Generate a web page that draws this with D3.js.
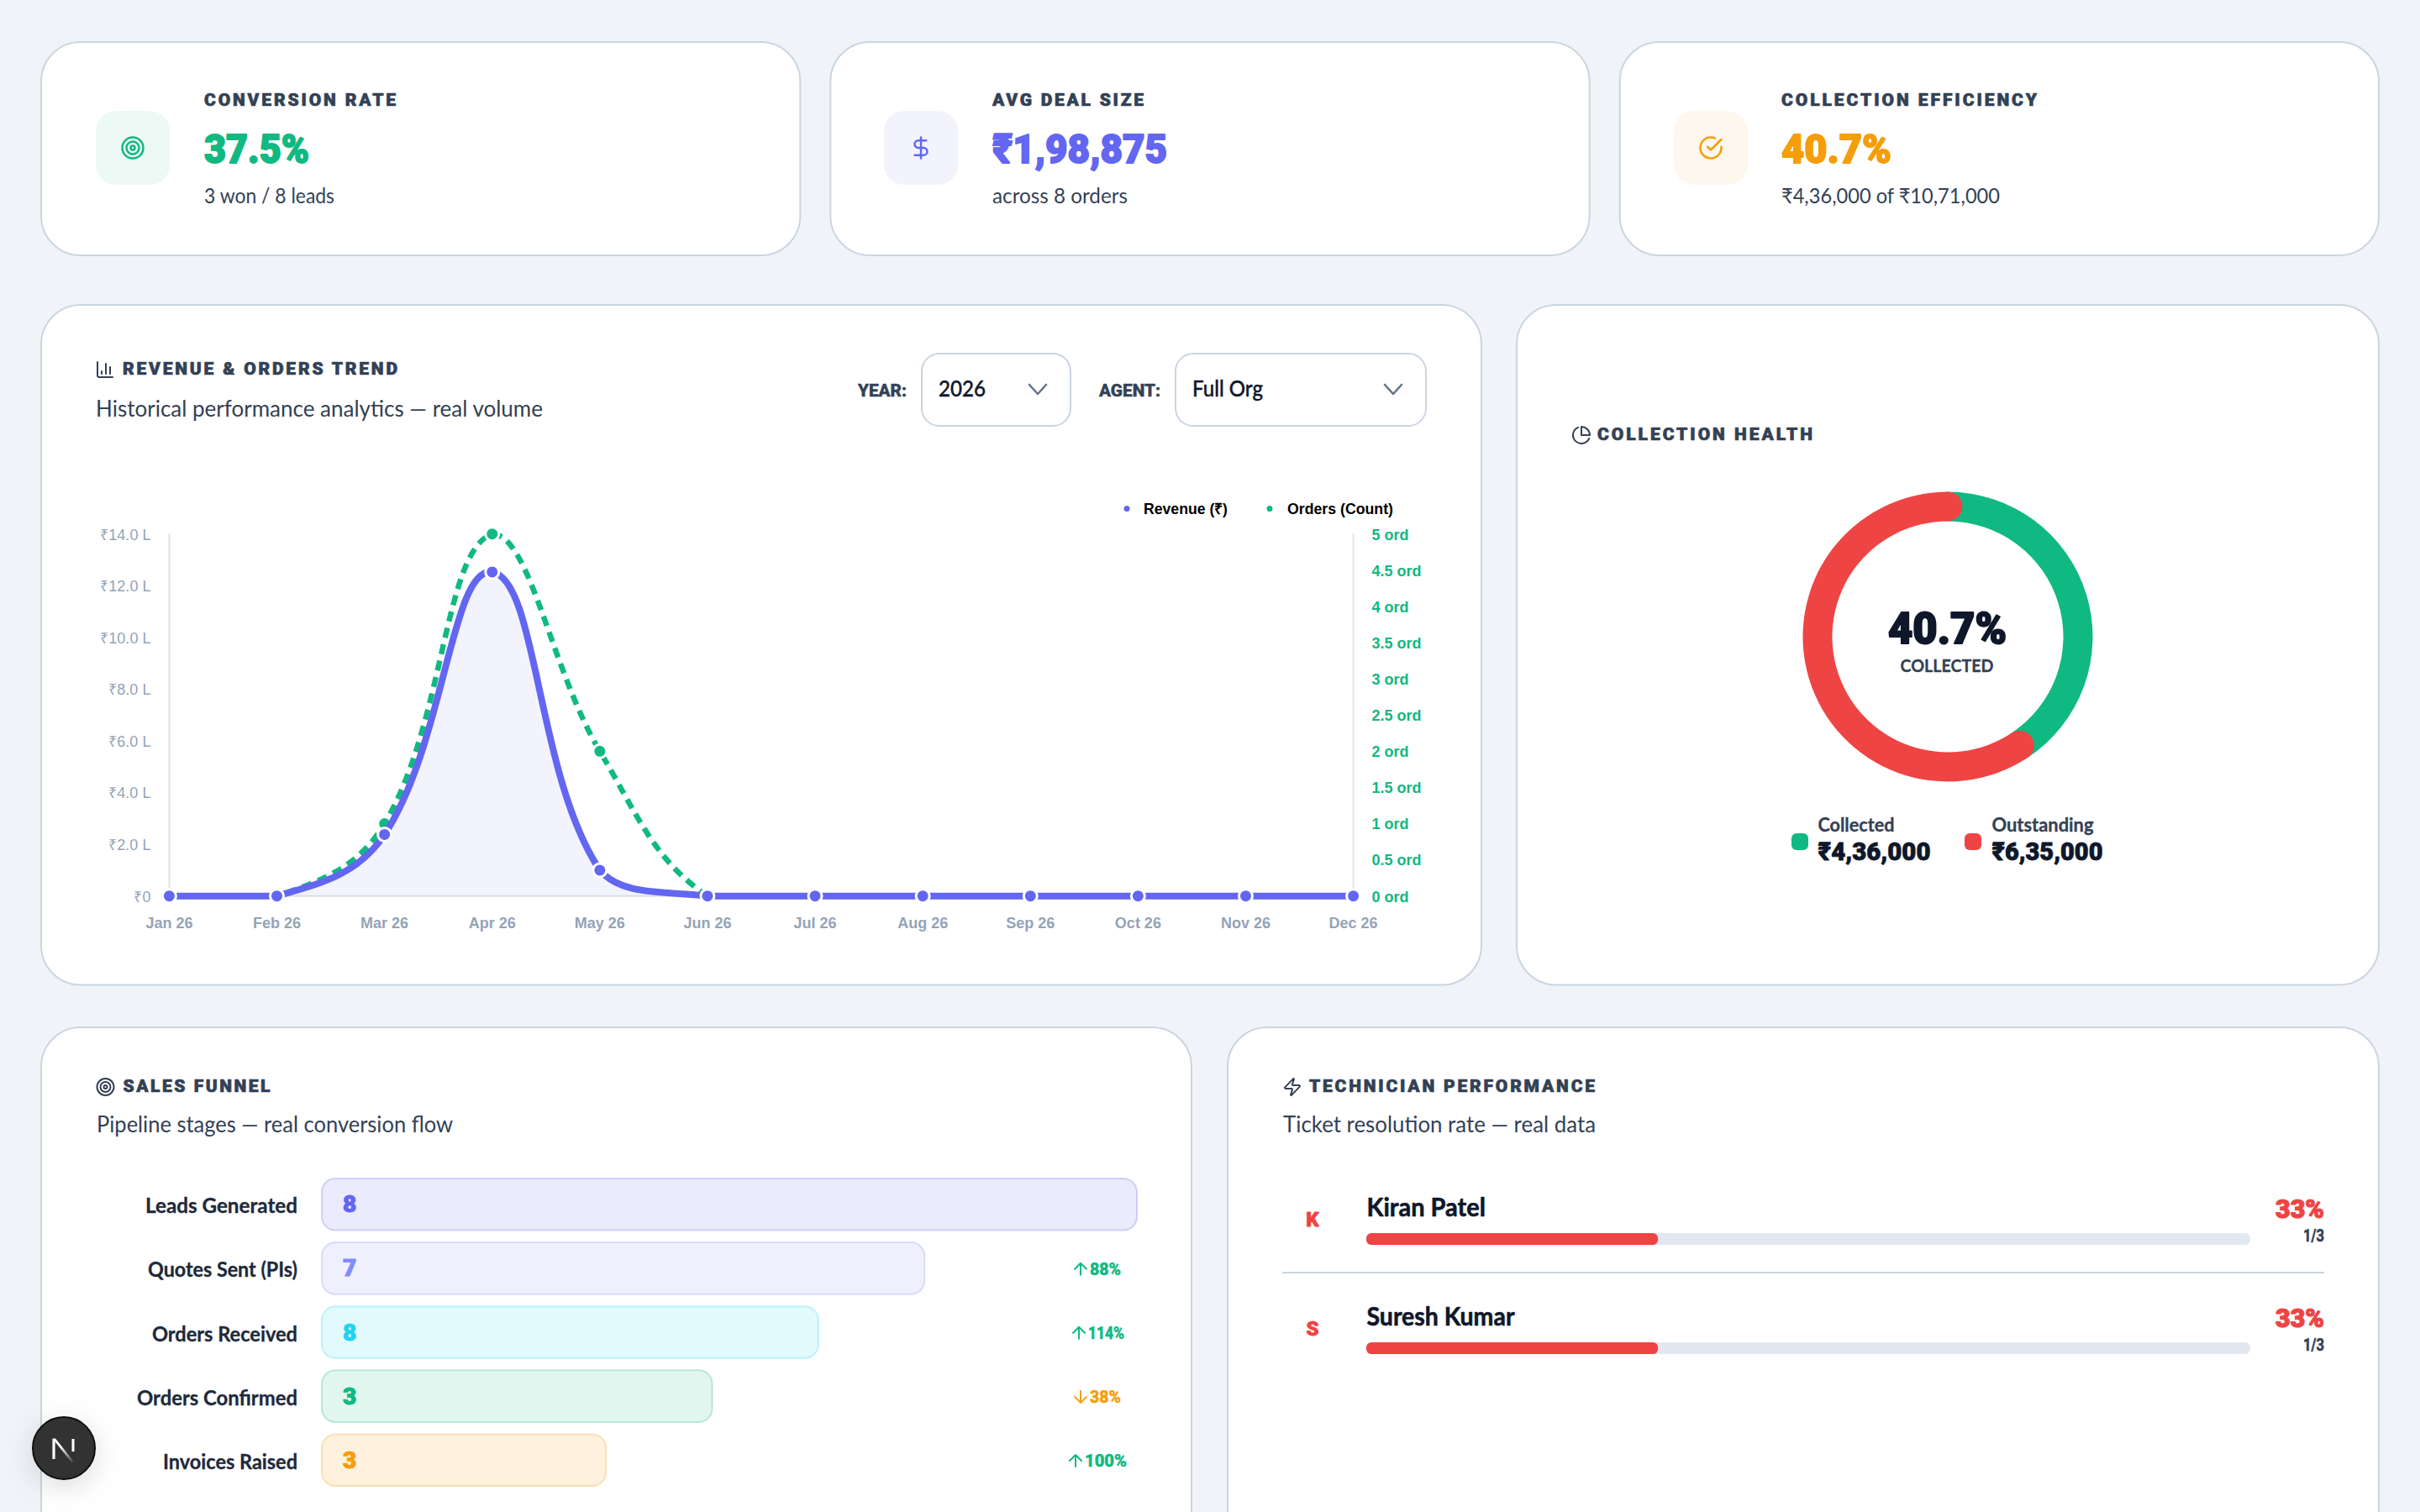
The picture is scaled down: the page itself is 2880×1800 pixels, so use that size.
<!DOCTYPE html>
<html lang="en">
<head>
<meta charset="utf-8">
<title>Sales dashboard</title>
<script src="https://cdn.jsdelivr.net/npm/d3@7/dist/d3.min.js"></script>
<style>
  html, body { margin: 0; padding: 0; background: #f0f4f9; }
  svg { display: block; }
</style>
</head>
<body>
<svg id="board" width="2880" height="1800"></svg>
<script>
// ---- Data ----------------------------------------------------------------
const months = ["Jan 26","Feb 26","Mar 26","Apr 26","May 26","Jun 26","Jul 26","Aug 26","Sep 26","Oct 26","Nov 26","Dec 26"];
const revenue = [0, 0, 238000, 1253000, 100000, 0, 0, 0, 0, 0, 0, 0];
const orders = [0, 0, 1, 5, 2, 0, 0, 0, 0, 0, 0, 0];
const revenueTicks = [0, 200000, 400000, 600000, 800000, 1000000, 1200000, 1400000];
const revenueTickLabels = ["₹0", "₹2.0 L", "₹4.0 L", "₹6.0 L", "₹8.0 L", "₹10.0 L", "₹12.0 L", "₹14.0 L"];
const orderTicks = [0, 0.5, 1, 1.5, 2, 2.5, 3, 3.5, 4, 4.5, 5];

const collectionNames = ["Collected", "Outstanding"];
const collectionValues = [436000, 635000];
const collectionLabels = ["₹4,36,000", "₹6,35,000"];

const funnelStages = ["Leads Generated", "Quotes Sent (PIs)", "Orders Received", "Orders Confirmed", "Invoices Raised"];
const funnelCounts = [8, 7, 8, 3, 3];
// The funnel narrows by stage: lengths are a share of the full row, not a count.
const funnelShare = [100, 74, 61, 48, 35];
const funnelSteps = ["", "88%", "114%", "38%", "100%"];
const funnelStepUp = [true, true, true, false, true];

const techNames = ["Kiran Patel", "Suresh Kumar"];
const techRates = [33, 33];
const techTickets = ["1/3", "1/3"];

const statTitles = ["CONVERSION RATE", "AVG DEAL SIZE", "COLLECTION EFFICIENCY"];
const statValues = ["37.5%", "₹1,98,875", "40.7%"];
const statNotes = ["3 won / 8 leads", "across 8 orders", "₹4,36,000 of ₹10,71,000"];

// ---- Shared helpers ------------------------------------------------------
const UI = "Lato, 'Noto Sans', 'DejaVu Sans', sans-serif";
const HEAVY = "Roboto, 'Noto Sans', 'DejaVu Sans', sans-serif";
const CHART_FONT = "'Liberation Sans', Arial, sans-serif";
const C = {
  page: "#f0f4f9", border: "#cbd5e1", ink: "#0f172a", slate: "#334155",
  indigo: "#6366f1", green: "#10b981", amber: "#f59e0b", red: "#ef4444", muted: "#94a3b8"
};
const svg = d3.select("#board");

function label(parent, x, y, str, o = {}) {
  const t = parent.append("text")
    .attr("x", x).attr("y", y)
    .attr("font-family", o.font || UI)
    .attr("font-size", o.size || 24)
    .attr("font-weight", o.weight || 400)
    .attr("fill", o.fill || C.slate)
    .attr("text-anchor", o.anchor || "start")
    .text(str);
  if (o.width) t.attr("textLength", o.width).attr("lengthAdjust", o.spaced ? "spacing" : "spacingAndGlyphs");
  // A thin outline in the text colour thickens the installed bold cuts.
  if (o.heft) t.attr("stroke", o.fill || C.slate).attr("stroke-width", o.heft).attr("stroke-linejoin", "round");
  return t;
}

function card(x, y, w, h) {
  svg.append("rect").attr("x", x + 1).attr("y", y + 1).attr("width", w - 2).attr("height", h - 2)
    .attr("rx", 47).attr("fill", "#fff").attr("stroke", C.border).attr("stroke-width", 2);
}

const ICONS = {
  target: g => {
    [10, 6, 2].forEach(r => g.append("circle").attr("cx", 12).attr("cy", 12).attr("r", r));
  },
  dollar: g => {
    g.append("path").attr("d", "M12 2v20");
    g.append("path").attr("d", "M17 5H9.5a3.5 3.5 0 0 0 0 7h5a3.5 3.5 0 0 1 0 7H6");
  },
  check: g => {
    g.append("path").attr("d", "M22 11.08V12a10 10 0 1 1-5.93-9.14");
    g.append("path").attr("d", "m9 11 3 3L22 4");
  },
  bars: g => {
    g.append("path").attr("d", "M3 3v16a2 2 0 0 0 2 2h16");
    g.append("path").attr("d", "M18 17V9M13 17V5M8 17v-3");
  },
  pie: g => {
    g.append("path").attr("d", "M21.21 15.89A10 10 0 1 1 8 2.83");
    g.append("path").attr("d", "M22 12A10 10 0 0 0 12 2v10z");
  },
  zap: g => {
    g.append("path").attr("d", "M4 14a1 1 0 0 1-.78-1.63l9.9-10.2a.5.5 0 0 1 .86.46l-1.92 6.02A1 1 0 0 0 13 10h7a1 1 0 0 1 .78 1.63l-9.9 10.2a.5.5 0 0 1-.86-.46l1.92-6.02A1 1 0 0 0 11 14z");
  }
};

function icon(name, cx, cy, size, color) {
  const g = svg.append("g")
    .attr("transform", `translate(${cx - size / 2},${cy - size / 2}) scale(${size / 24})`)
    .attr("fill", "none").attr("stroke", color).attr("stroke-width", 2)
    .attr("stroke-linecap", "round").attr("stroke-linejoin", "round");
  ICONS[name](g);
}

function heading(iconName, iconX, textX, baseline, str, width) {
  icon(iconName, iconX, baseline - 6, 24, C.slate);
  label(svg, textX, baseline, str, { font: HEAVY, size: 21, weight: 900, fill: C.slate, width, spaced: true, heft: 0.7 });
}

// ---- Page and stat cards -------------------------------------------------
svg.append("rect").attr("width", 2880).attr("height", 1800).attr("fill", C.page);

const statLayout = [
  { x: 48, tile: 114, text: 243, icon: "target", color: C.green, tint: "#edf9f5", tw: 228, vw: 125, nw: 155 },
  { x: 987.3, tile: 1052, text: 1181, icon: "dollar", color: C.indigo, tint: "#f3f3fe", tw: 180, vw: 208, nw: 161 },
  { x: 1926.7, tile: 1992, text: 2120, icon: "check", color: C.amber, tint: "#fef7ee", tw: 304, vw: 131, nw: 260 }
];
statLayout.forEach((s, i) => {
  card(s.x, 49, 905.3, 256);
  svg.append("rect").attr("x", s.tile).attr("y", 132).attr("width", 88).attr("height", 88)
    .attr("rx", 24).attr("fill", s.tint);
  icon(s.icon, s.tile + 44, 176, 30, s.color);
  label(svg, s.text, 126, statTitles[i], { font: HEAVY, size: 21, weight: 900, fill: C.slate, width: s.tw, spaced: true, heft: 0.7 });
  label(svg, s.text, 194, statValues[i], { font: HEAVY, size: 49, weight: 900, fill: s.color, width: s.vw, heft: 1.8 });
  label(svg, s.text, 241.5, statNotes[i], { size: 25, fill: C.slate, width: s.nw });
});

// ---- Revenue & orders trend ----------------------------------------------
card(48, 362, 1716, 811.5);
heading("bars", 125, 146, 446, "REVENUE & ORDERS TREND", 327);
label(svg, 114, 496, "Historical performance analytics — real volume", { size: 26, fill: C.slate, width: 532 });

function selectBox(labelText, lx, lw, bx, bw, value, vw) {
  label(svg, lx, 472, labelText, { font: HEAVY, size: 20, weight: 800, fill: C.slate, width: lw, heft: 0.5 });
  svg.append("rect").attr("x", bx + 1).attr("y", 421).attr("width", bw - 2).attr("height", 86)
    .attr("rx", 21).attr("fill", "#fff").attr("stroke", C.border).attr("stroke-width", 2);
  label(svg, bx + 21, 472, value, { size: 26, weight: 500, fill: C.ink, width: vw, heft: 0.4 });
  const cx = bx + bw - 40;
  svg.append("path").attr("d", `M${cx - 10} 458l10 11 10-11`).attr("fill", "none")
    .attr("stroke", "#64748b").attr("stroke-width", 2.6).attr("stroke-linecap", "round").attr("stroke-linejoin", "round");
}
selectBox("YEAR:", 1021, 58, 1096, 179, "2026", 56);
selectBox("AGENT:", 1308, 73, 1398, 300, "Full Org", 84);

const plot = { left: 201.4, right: 1610.6, top: 635.7, bottom: 1066.7 };
const x = d3.scalePoint().domain(months).range([plot.left, plot.right]);
const yRevenue = d3.scaleLinear().domain([0, 1400000]).range([plot.bottom, plot.top]);
const yOrders = d3.scaleLinear().domain([0, 5]).range([plot.bottom, plot.top]);

// Cardinal spline: each control point is placed along the prev-next chord,
// weighted by segment lengths and clamped to the plot area.
function boundedSpline(context) {
  const tension = 0.4;
  let pts = [], line = NaN;
  const clamp = (v, lo, hi) => Math.max(lo, Math.min(hi, v));
  return {
    areaStart() { line = 0; },
    areaEnd() { line = NaN; },
    lineStart() { pts = []; },
    point(px, py) { pts.push([+px, +py]); },
    lineEnd() {
      const ctrl = pts.map((p, i) => {
        const a = pts[i - 1] || p, b = pts[i + 1] || p;
        const d0 = Math.hypot(p[0] - a[0], p[1] - a[1]);
        const d1 = Math.hypot(b[0] - p[0], b[1] - p[1]);
        const sum = d0 + d1 || 1;
        const f0 = tension * d0 / sum, f1 = tension * d1 / sum;
        return {
          inX: clamp(p[0] - f0 * (b[0] - a[0]), plot.left, plot.right),
          inY: clamp(p[1] - f0 * (b[1] - a[1]), plot.top, plot.bottom),
          outX: clamp(p[0] + f1 * (b[0] - a[0]), plot.left, plot.right),
          outY: clamp(p[1] + f1 * (b[1] - a[1]), plot.top, plot.bottom)
        };
      });
      pts.forEach((p, i) => {
        if (i === 0) { line ? context.lineTo(p[0], p[1]) : context.moveTo(p[0], p[1]); return; }
        context.bezierCurveTo(ctrl[i - 1].outX, ctrl[i - 1].outY, ctrl[i].inX, ctrl[i].inY, p[0], p[1]);
      });
      if (line === 1) context.closePath();
      line = 1 - line;
    }
  };
}

const chart = svg.append("g");

const axisStyle = (sel, font, weight, fill) => {
  sel.select(".domain").attr("stroke", "#e2e3e6").attr("stroke-width", 2);
  sel.selectAll("text").attr("font-family", font).attr("font-size", 18).attr("font-weight", weight).attr("fill", fill);
};
chart.append("g").attr("transform", `translate(${plot.left},0)`)
  .call(d3.axisLeft(yRevenue).offset(0).tickValues(revenueTicks).tickSize(0).tickPadding(22)
    .tickFormat((d, i) => revenueTickLabels[i]))
  .call(axisStyle, CHART_FONT, 400, C.muted)
  .call(g => g.selectAll("text").attr("dy", "0.38em"));
chart.append("g").attr("transform", `translate(${plot.right},0)`)
  .call(d3.axisRight(yOrders).offset(0).tickValues(orderTicks).tickSize(0).tickPadding(22)
    .tickFormat(d => `${d} ord`))
  .call(axisStyle, CHART_FONT, 700, C.green)
  .call(g => g.selectAll("text").attr("dy", "0.38em"));
chart.append("g").attr("transform", `translate(0,${plot.bottom})`)
  .call(d3.axisBottom(x).offset(0).tickSize(0).tickPadding(26))
  .call(axisStyle, CHART_FONT, 700, C.muted);

const rows = months.map((m, i) => ({ m, revenue: revenue[i], orders: orders[i] }));

chart.append("path").datum(rows)
  .attr("fill", C.indigo).attr("fill-opacity", 0.08)
  .attr("d", d3.area().curve(boundedSpline).x(d => x(d.m)).y0(yRevenue(0)).y1(d => yRevenue(d.revenue)));

chart.append("path").datum(rows)
  .attr("fill", "none").attr("stroke", C.green).attr("stroke-width", 6.5).attr("stroke-dasharray", "12 8")
  .attr("d", d3.line().curve(boundedSpline).x(d => x(d.m)).y(d => yOrders(d.orders)));
chart.append("g").selectAll("circle").data(rows).join("circle")
  .attr("cx", d => x(d.m)).attr("cy", d => yOrders(d.orders)).attr("r", 8)
  .attr("fill", C.green).attr("stroke", "#fff").attr("stroke-width", 3);

chart.append("path").datum(rows)
  .attr("fill", "none").attr("stroke", C.indigo).attr("stroke-width", 8)
  .attr("d", d3.line().curve(boundedSpline).x(d => x(d.m)).y(d => yRevenue(d.revenue)));
chart.append("g").selectAll("circle").data(rows).join("circle")
  .attr("cx", d => x(d.m)).attr("cy", d => yRevenue(d.revenue)).attr("r", 8)
  .attr("fill", C.indigo).attr("stroke", "#fff").attr("stroke-width", 3);

[["Revenue (₹)", C.indigo, 1341, 1361, 100], ["Orders (Count)", C.green, 1511, 1532, 126]].forEach(([name, color, dot, tx, w]) => {
  chart.append("circle").attr("cx", dot).attr("cy", 605.5).attr("r", 3.5).attr("fill", color);
  label(chart, tx, 612, name, { font: CHART_FONT, size: 18, weight: 700, fill: "#000", width: w });
});

// ---- Collection health donut ---------------------------------------------
card(1804, 362, 1028, 811.5);
heading("pie", 1882, 1901, 524, "COLLECTION HEALTH", 256);

const ring = { cx: 2318, cy: 758, outer: 172.5, inner: 137.5 };
const thickness = ring.outer - ring.inner;
const capAngle = (thickness / 2) / ((ring.outer + ring.inner) / 2);
const slices = d3.pie().sort(null)(collectionValues);
const arcGen = d3.arc().innerRadius(ring.inner).outerRadius(ring.outer).cornerRadius(thickness / 2);
const donut = svg.append("g").attr("transform", `translate(${ring.cx},${ring.cy})`);
// Each segment's round cap reaches past its angular span; the later one sits on top.
donut.selectAll("path").data(slices).join("path")
  .attr("fill", (d, i) => [C.green, C.red][i])
  .attr("d", d => arcGen({ startAngle: d.startAngle - capAngle, endAngle: d.endAngle + capAngle }));

const collectedShare = collectionValues[0] / d3.sum(collectionValues);
label(svg, 2247, 766, d3.format(".1%")(collectedShare), { font: HEAVY, size: 52, weight: 900, fill: C.ink, width: 141, heft: 2 });
label(svg, 2261.5, 800, "COLLECTED", { size: 20, weight: 700, fill: C.slate, width: 111, heft: 0.3 });

[
  { sw: 2132, tx: 2163.5, nw: 91, vw: 134, color: C.green },
  { sw: 2338, tx: 2370.5, nw: 121, vw: 132, color: C.red }
].forEach((l, i) => {
  svg.append("rect").attr("x", l.sw).attr("y", 992).attr("width", 20).attr("height", 20).attr("rx", 6).attr("fill", l.color);
  label(svg, l.tx, 990, collectionNames[i], { size: 22, weight: 700, fill: C.slate, width: l.nw, heft: 0.3 });
  label(svg, l.tx, 1023.5, collectionLabels[i], { font: HEAVY, size: 30, weight: 900, fill: C.ink, width: l.vw, heft: 0.8 });
});

// ---- Sales funnel --------------------------------------------------------
card(48, 1222, 1371, 700);
heading("target", 125.5, 146.5, 1300, "SALES FUNNEL", 175);
label(svg, 115, 1347.5, "Pipeline stages — real conversion flow", { size: 26, fill: C.slate, width: 424 });

const funnelColors = [C.indigo, "#818cf8", "#22d3ee", C.green, C.amber];
const stageWidths = [181, 178, 173, 191, 160];
const stepLayout = [null, [1279, 1297, 37], [1277, 1295, 43], [1279, 1297, 37], [1273, 1291, 50]];
const fx = d3.scaleLinear().domain([0, 100]).range([382, 1354]);
const fy = d3.scaleBand().domain(funnelStages).range([1402, 1770]).paddingInner(12.5 / 76);

const funnel = svg.append("g");
funnelStages.forEach((stage, i) => {
  const color = funnelColors[i];
  const top = fy(stage), h = fy.bandwidth(), mid = top + h / 2;
  funnel.append("rect").attr("x", fx(0) + 1).attr("y", top + 1)
    .attr("width", fx(funnelShare[i]) - fx(0) - 2).attr("height", h - 2).attr("rx", 16)
    .attr("fill", d3.color(color).copy({ opacity: 0.13 }))
    .attr("stroke", d3.color(color).copy({ opacity: 0.26 })).attr("stroke-width", 2);
  label(funnel, 354, mid + 10.5, stage, { size: 24, weight: 700, fill: "#1e293b", anchor: "end", width: stageWidths[i], heft: 0.3 });
  label(funnel, 408, mid + 9.5, funnelCounts[i], { font: HEAVY, size: 28, weight: 900, fill: color, heft: 1 });
  if (stepLayout[i]) {
    const [ax, tx, tw] = stepLayout[i];
    const stepColor = funnelStepUp[i] ? C.green : C.amber;
    const base = mid + 7.8;
    const ay = base - 14;
    const ah = funnelStepUp[i]
      ? `M${ax + 7} ${ay + 14}V${ay}M${ax} ${ay + 7}L${ax + 7} ${ay}L${ax + 14} ${ay + 7}`
      : `M${ax + 7} ${ay}V${ay + 14}M${ax} ${ay + 7}L${ax + 7} ${ay + 14}L${ax + 14} ${ay + 7}`;
    funnel.append("path").attr("d", ah).attr("fill", "none").attr("stroke", stepColor).attr("stroke-width", 2).attr("stroke-linecap", "round").attr("stroke-linejoin", "round");
    label(funnel, tx, base, funnelSteps[i], { font: HEAVY, size: 20, weight: 800, fill: stepColor, width: tw, heft: 0.5 });
  }
});

// ---- Technician performance ----------------------------------------------
card(1460, 1222, 1372, 700);
heading("zap", 1538, 1558, 1300, "TECHNICIAN PERFORMANCE", 340);
label(svg, 1527, 1347.5, "Ticket resolution rate — real data", { size: 26, fill: C.slate, width: 372 });

const tx = d3.scaleLinear().domain([0, 100]).range([1626, 2678]);
const tech = svg.append("g");
techNames.forEach((name, i) => {
  const dy = i * 130;
  label(tech, 1562, 1460 + dy, name[0], { font: HEAVY, size: 24, weight: 900, fill: C.red, anchor: "middle", heft: 0.8 });
  label(tech, 1626.5, 1447.5 + dy, name, { size: 30, weight: 700, fill: C.ink, width: [141.5, 176][i], heft: 0.6 });
  tech.append("rect").attr("x", tx(0)).attr("y", 1468 + dy).attr("width", tx(100) - tx(0)).attr("height", 14).attr("rx", 6).attr("fill", "#e2e8f0");
  tech.append("rect").attr("x", tx(0)).attr("y", 1468 + dy).attr("width", tx(techRates[i]) - tx(0)).attr("height", 14).attr("rx", 6).attr("fill", C.red);
  label(tech, 2766, 1450 + dy, techRates[i] + "%", { font: HEAVY, size: 32, weight: 900, fill: C.red, anchor: "end", width: 58, heft: 1.2 });
  label(tech, 2766, 1478 + dy, techTickets[i], { font: HEAVY, size: 20, weight: 800, fill: C.slate, anchor: "end", width: 25, heft: 0.4 });
});
tech.append("rect").attr("x", 1526).attr("y", 1514).attr("width", 1240).attr("height", 2).attr("fill", C.border);

// ---- Framework badge -----------------------------------------------------
const defs = svg.append("defs");
const soft = defs.append("filter").attr("id", "badgeShadow").attr("x", "-60%").attr("y", "-60%").attr("width", "220%").attr("height", "220%");
soft.append("feDropShadow").attr("dx", 0).attr("dy", 8).attr("stdDeviation", 16).attr("flood-color", "#0f172a").attr("flood-opacity", 0.14);
const fade = defs.append("linearGradient").attr("id", "badgeFade").attr("x1", 0).attr("y1", 0).attr("x2", 1).attr("y2", 1);
fade.append("stop").attr("offset", "35%").attr("stop-color", "#fff");
fade.append("stop").attr("offset", "100%").attr("stop-color", "#fff").attr("stop-opacity", 0);
const badge = svg.append("g").attr("transform", "translate(76,1724)");
badge.append("circle").attr("r", 37).attr("fill", "#333").attr("stroke", "#111").attr("stroke-width", 2).attr("filter", "url(#badgeShadow)");
badge.append("path").attr("d", "M-12 13V-11").attr("stroke", "#fff").attr("stroke-width", 3.2).attr("fill", "none");
badge.append("path").attr("d", "M-13.5 -11.5H-10L12 16L9.5 17.5Z").attr("fill", "url(#badgeFade)");
badge.append("path").attr("d", "M11 -11V4").attr("stroke", "#fff").attr("stroke-width", 3).attr("fill", "none");
</script>
</body>
</html>
